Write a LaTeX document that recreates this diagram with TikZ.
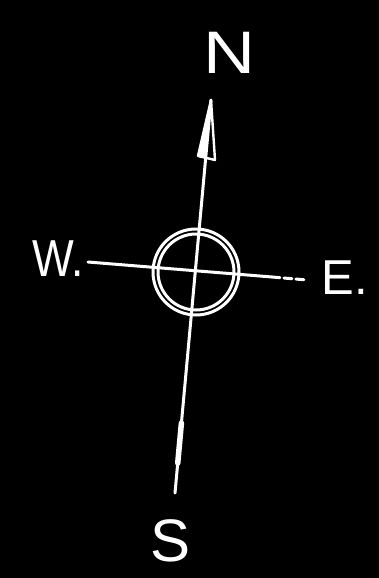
\documentclass[tikz,border=0pt]{standalone}
\usepackage{fontspec}
\setmainfont{Liberation Sans}
\begin{document}
\begin{tikzpicture}[x=1pt,y=-1pt,
  ink/.style={draw=white, line width=3pt, line cap=round, line join=round},
  ring/.style={circle, draw=white, line width=3pt, inner sep=0pt},
  lbl/.style={text=white, inner sep=0pt}]
\fill[black] (0,0) rectangle (379,578);
\useasboundingbox (0,0) rectangle (379,578);
\coordinate (c) at (196,272);
\coordinate (ntip) at (211,100);
\coordinate (stail) at (175,493);
\coordinate (wend) at (88,262);
\coordinate (esolid) at (272,277);
\coordinate (eend) at (307,280);
\coordinate (bl) at (198,156);
\coordinate (br) at (215,160);
\coordinate (bm) at (206,158);
\path (ntip) -- (stail) coordinate[pos=0.822] (t1) coordinate[pos=0.924] (t2);
% circles
\node[ring, minimum size=86pt] (outer) at (c) {};
\node[ring, minimum size=76pt] (inner) at (c) {};
% axes
\draw[ink] (ntip) -- (stail);
\draw[ink] (wend) -- (esolid);
\draw[ink, dash pattern=on 8pt off 4pt] (esolid) -- (eend);
% arrow head
\draw[ink, line width=2.4pt] (ntip) -- (bl) -- (br) -- cycle;
\fill[white] (ntip) -- (bl) -- (bm) -- cycle;
% tail
\draw[ink, line width=5.5pt] (t1) -- (t2);
% labels
\node[lbl, font=\fontsize{60}{60}\selectfont, xscale=1.2] (N) at (229,53) {N};
\node[lbl, font=\fontsize{52}{52}\selectfont, xscale=0.85] (W) at (58,259) {W.};
\node[lbl, font=\fontsize{49}{49}\selectfont] (E) at (345,278) {E.};
\node[lbl, font=\fontsize{60}{60}\selectfont] (S) at (171,541) {S};
\end{tikzpicture}
\end{document}
